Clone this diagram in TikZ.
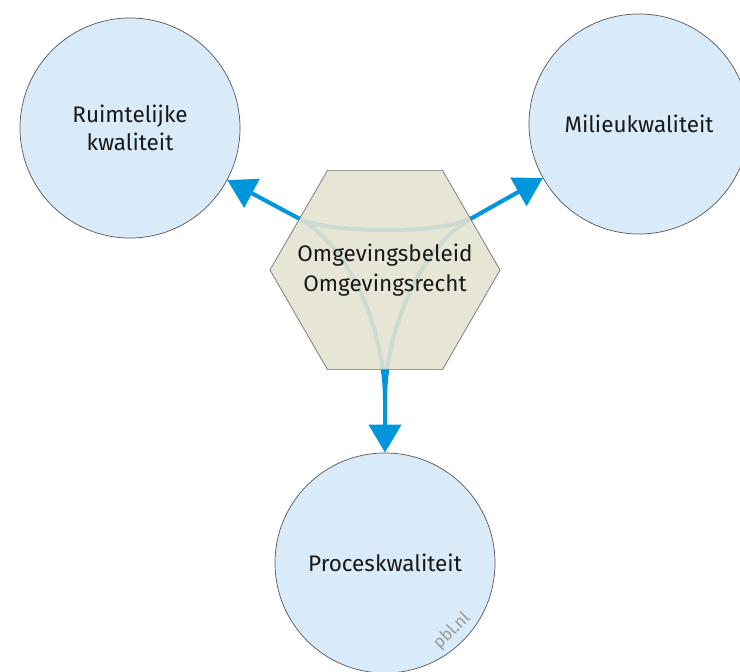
\documentclass[tikz,border=0pt]{standalone}
\usepackage{fontspec}
\setmainfont{Fira Sans}
\usetikzlibrary{shapes.geometric,arrows.meta}
\definecolor{kwaliteitblue}{RGB}{217,234,249}
\definecolor{beleidgrey}{RGB}{227,226,210}
\definecolor{pijlblue}{RGB}{0,150,219}

\begin{document}
\begin{tikzpicture}[x=0.025cm,y=0.025cm,
  kwaliteit/.style={circle,draw=black!65,line width=0.5pt,fill=kwaliteitblue,
    minimum size=5.5cm,align=center,text=black!90,
    font=\fontsize{16}{20}\selectfont},
  lus/.style={pijlblue,line width=2.9pt},
  pijl/.style={lus,-{Triangle[length=0.7cm,width=0.8cm]}}]
\useasboundingbox (0,0) rectangle (740,671);

% the three qualities
\node [kwaliteit] (ruimte) at (130,543) {Ruimtelijke\\kwaliteit};
\node [kwaliteit] (milieu) at (639,547) {Milieukwaliteit};
\node [kwaliteit] (proces) at (385,108) {Proceskwaliteit};
\node [rotate=45,text=black!40,font=\fontsize{12}{12}\selectfont] (pbl) at (452,40) {pbl.nl};

% curved triangle behind the hexagon
\coordinate (L) at (298,453);
\coordinate (R) at (472,453);
\coordinate (B) at (385,271);
\draw [lus] (L) to[out=-28,in=209,looseness=0.5] (R);
\draw [lus] (L) to[out=-28,in=90,looseness=0.8] (B);
\draw [lus] (R) to[out=209,in=90,looseness=0.8] (B);
\draw [pijl] (L) -- (ruimte);
\draw [pijl] (R) -- (milieu);
\draw [pijl] (B) -- (proces);

\node [regular polygon,regular polygon sides=6,minimum size=5.75cm,inner sep=0pt,
  draw=black!55,line width=0.5pt,fill=beleidgrey,fill opacity=0.9]
  (beleid) at (385,401) {};
\node [align=center,text=black!90,font=\fontsize{16}{21.5}\selectfont]
  (beleidtekst) at (beleid.center) {Omgevingsbeleid\\Omgevingsrecht};
\end{tikzpicture}
\end{document}
